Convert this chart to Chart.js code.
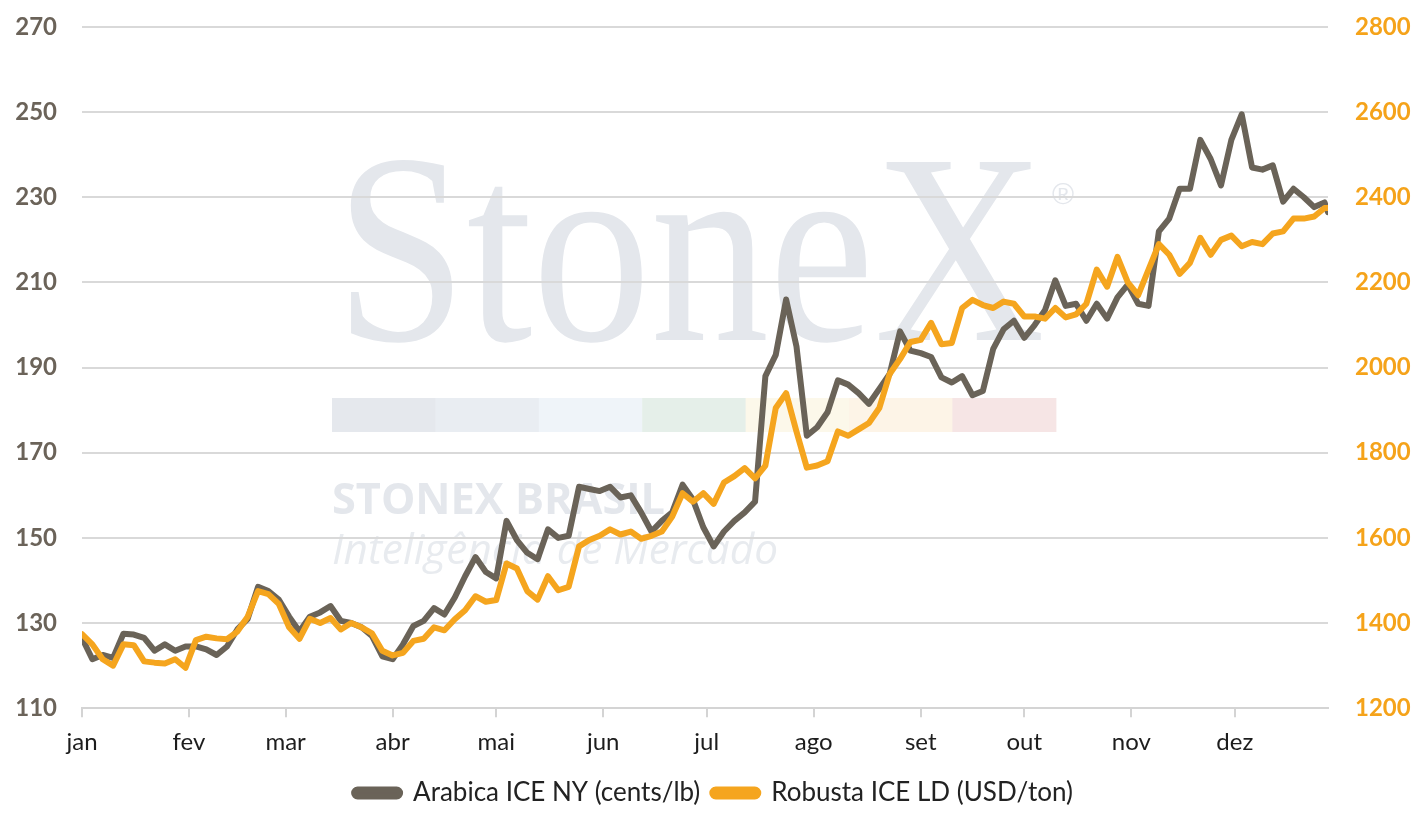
<!DOCTYPE html>
<html lang="pt-BR">
<head>
<meta charset="utf-8">
<title>Arabica x Robusta</title>
<script src="https://cdn.jsdelivr.net/npm/chart.js@4.4.1/dist/chart.umd.min.js"></script>
<style>
  html, body { margin: 0; padding: 0; background: #fff; }
  #caixa { position: relative; width: 1427px; height: 827px; }
</style>
</head>
<body>
<div id="caixa"><canvas id="grafico"></canvas></div>
<script>
// Dia do ano (0 = 1 de janeiro) de cada ponto
const dias = [
  0, 3, 6, 9, 12, 15, 18, 21, 24, 27,
  30, 33, 36, 39, 42, 45, 48, 51, 54, 57,
  60, 63, 66, 69, 72, 75, 78, 81, 84, 87,
  90, 93, 96, 99, 102, 105, 108, 111, 114, 117,
  120, 123, 126, 129, 132, 135, 138, 141, 144, 147,
  150, 153, 156, 159, 162, 165, 168, 171, 174, 177,
  180, 183, 186, 189, 192, 195, 198, 201, 204, 207,
  210, 213, 216, 219, 222, 225, 228, 231, 234, 237,
  240, 243, 246, 249, 252, 255, 258, 261, 264, 267,
  270, 273, 276, 279, 282, 285, 288, 291, 294, 297,
  300, 303, 306, 309, 312, 315, 318, 321, 324, 327,
  330, 333, 336, 339, 342, 345, 348, 351, 354, 357,
  360, 361
];

// Arabica ICE NY (cents/lb) - eixo esquerdo
const arabica = [
  126.5, 121.5, 122.5, 121.8, 127.5, 127.3, 126.5, 123.5, 125, 123.5,
  124.5, 124.5, 123.8, 122.5, 124.5, 128.5, 131, 138.5, 137.5, 135.5,
  131.5, 128, 131.5, 132.5, 134, 130.5, 130, 129, 127, 122.2,
  121.5, 125, 129.3, 130.5, 133.5, 132, 136, 141, 145.5, 142,
  140.5, 154, 149.5, 146.5, 145, 152, 150, 150.5, 162, 161.5,
  161, 162, 159.5, 160, 156, 151.5, 154, 156, 162.5, 159,
  152.5, 148, 151.5, 154, 156, 158.5, 188, 193, 206, 195,
  174, 176, 179.5, 187, 186, 184, 181.5, 185, 188.5, 198.5,
  194, 193.4, 192.5, 187.7, 186.5, 188, 183.5, 184.5, 194.4, 199,
  201, 197, 200, 203.5, 210.5, 204.5, 205, 201, 205, 201.5,
  206.5, 209.5, 205, 204.5, 222, 225, 232, 232, 243.5, 239,
  232.8, 243.5, 249.5, 237, 236.5, 237.5, 229, 232, 230, 227.7,
  228.8, 226.5
];

// Robusta ICE LD (USD/ton) - eixo direito
const robusta = [
  1374, 1350, 1315, 1300, 1350, 1348, 1310, 1307, 1305, 1315,
  1295, 1360, 1368, 1364, 1362, 1380, 1415, 1475, 1468, 1445,
  1390, 1363, 1410, 1400, 1412, 1385, 1400, 1390, 1376, 1335,
  1324, 1330, 1358, 1363, 1390, 1383, 1409, 1430, 1463, 1450,
  1454, 1540, 1528, 1475, 1455, 1510, 1477, 1485, 1580, 1595,
  1605, 1620, 1608, 1615, 1598, 1605, 1615, 1650, 1705, 1685,
  1705, 1680, 1730, 1745, 1764, 1740, 1770, 1905, 1940, 1850,
  1765, 1770, 1780, 1850, 1840, 1855, 1870, 1905, 1985, 2020,
  2060, 2065, 2105, 2055, 2058, 2140, 2159, 2147, 2140, 2155,
  2150, 2120, 2120, 2115, 2140, 2118, 2125, 2150, 2230, 2190,
  2260, 2200, 2170, 2230, 2290, 2265, 2220, 2246, 2305, 2265,
  2300, 2310, 2285, 2295, 2290, 2315, 2320, 2350, 2350, 2355,
  2375, 2375
];

// Inicio de cada mes (dia do ano) e os nomes que aparecem no eixo X
const mesesDia = [0, 31, 59, 90, 120, 151, 181, 212, 243, 273, 304, 334];
const mesesNome = ['jan', 'fev', 'mar', 'abr', 'mai', 'jun', 'jul', 'ago', 'set', 'out', 'nov', 'dez'];

const corArabica = '#6a6358';
const corRobusta = '#f5a51e';
const fonte = 'Lato, "Open Sans", sans-serif';

// Marca d'agua da StoneX desenhada atras do grafico
const marcaDagua = {
  id: 'marcaDagua',
  beforeDraw(chart) {
    const ctx = chart.ctx;
    ctx.save();
    const faixa = ['#e5e8ed', '#e9edf2', '#eff4f9', '#e5efe9', '#fcf8ea', '#fdf4e7', '#f6e5e5'];
    faixa.forEach((c, k) => {
      ctx.fillStyle = c;
      ctx.fillRect(332 + k * 103.4, 398, 104, 34);
    });

    ctx.fillStyle = '#e4e7ec';
    ctx.textBaseline = 'alphabetic';
    ctx.font = '272px "Liberation Serif", "DejaVu Serif", serif';
    let w = ctx.measureText('StoneX').width;
    ctx.save();
    ctx.translate(335, 340);
    ctx.scale(710 / w, 1);
    ctx.fillText('StoneX', 0, 0);
    ctx.restore();

    ctx.font = '30px "Liberation Sans", sans-serif';
    ctx.fillText('®', 1052, 204);

    ctx.font = 'bold 43px "Open Sans", sans-serif';
    w = ctx.measureText('STONEX BRASIL').width;
    ctx.save();
    ctx.translate(332, 514);
    ctx.scale(333 / w, 1);
    ctx.fillText('STONEX BRASIL', 0, 0);
    ctx.restore();

    ctx.fillStyle = '#e8ebef';
    ctx.font = 'italic 42px "Open Sans", sans-serif';
    w = ctx.measureText('Inteligência de Mercado').width;
    ctx.save();
    ctx.translate(332, 564);
    ctx.scale(446 / w, 1);
    ctx.fillText('Inteligência de Mercado', 0, 0);
    ctx.restore();

    ctx.restore();
  }
};

// Tira o espaco extra que o Chart.js reserva acima do eixo Y
const semPaddingTopo = (s) => { s.paddingTop = 0; };

new Chart(document.getElementById('grafico'), {
  type: 'line',
  data: {
    datasets: [
      {
        label: 'Arabica ICE NY (cents/lb)',
        data: dias.map((d, i) => ({ x: d, y: arabica[i] })),
        yAxisID: 'yEsq',
        borderColor: corArabica,
        backgroundColor: corArabica,
        borderWidth: 6,
        pointRadius: 0,
        tension: 0,
        borderJoinStyle: 'round',
        borderCapStyle: 'round',
        order: 1
      },
      {
        label: 'Robusta ICE LD (USD/ton)',
        data: dias.map((d, i) => ({ x: d, y: robusta[i] })),
        yAxisID: 'yDir',
        borderColor: corRobusta,
        backgroundColor: corRobusta,
        borderWidth: 6,
        pointRadius: 0,
        tension: 0,
        borderJoinStyle: 'round',
        borderCapStyle: 'round',
        order: 0 // laranja por cima
      }
    ]
  },
  options: {
    responsive: true,
    maintainAspectRatio: false,
    animation: false,
    layout: { padding: { top: 27, bottom: 11 } },
    plugins: {
      legend: {
        position: 'bottom',
        labels: {
          font: { family: fonte, size: 26, lineHeight: 1 },
          color: '#222',
          boxWidth: 46,
          boxHeight: 7,
          padding: 12,
          useBorderRadius: true,
          borderRadius: 3.5,
          sort: (a, b) => a.datasetIndex - b.datasetIndex
        }
      },
      tooltip: { enabled: false }
    },
    scales: {
      x: {
        type: 'linear',
        min: 0,
        max: 361,
        afterBuildTicks: (s) => { s.ticks = mesesDia.map(v => ({ value: v })); },
        ticks: {
          callback: (v, i) => mesesNome[i],
          font: { family: fonte, size: 24 },
          color: '#1d1d1d',
          maxRotation: 0,
          autoSkip: false,
          padding: 11
        },
        grid: { drawOnChartArea: false, drawTicks: true, tickLength: 9, color: '#d4d4d4', lineWidth: 2 },
        border: { display: true, color: '#d4d4d4', width: 2 }
      },
      yEsq: {
        position: 'left',
        min: 110,
        max: 270,
        ticks: {
          stepSize: 20,
          font: { family: fonte, size: 24, weight: 'bold' },
          color: '#6b6359',
          padding: 25
        },
        grid: { color: '#d9d9d9', lineWidth: 2, drawTicks: false },
        border: { display: false },
        afterFit: (s) => { s.width = 82; semPaddingTopo(s); }
      },
      yDir: {
        position: 'right',
        min: 1200,
        max: 2800,
        ticks: {
          stepSize: 200,
          callback: (v) => String(v),
          font: { family: fonte, size: 24, weight: 'bold' },
          color: '#f5a31a',
          padding: 27
        },
        grid: { drawOnChartArea: false, drawTicks: false },
        border: { display: false },
        afterFit: (s) => { s.width = 99; semPaddingTopo(s); }
      }
    }
  },
  plugins: [marcaDagua]
});
</script>
</body>
</html>
